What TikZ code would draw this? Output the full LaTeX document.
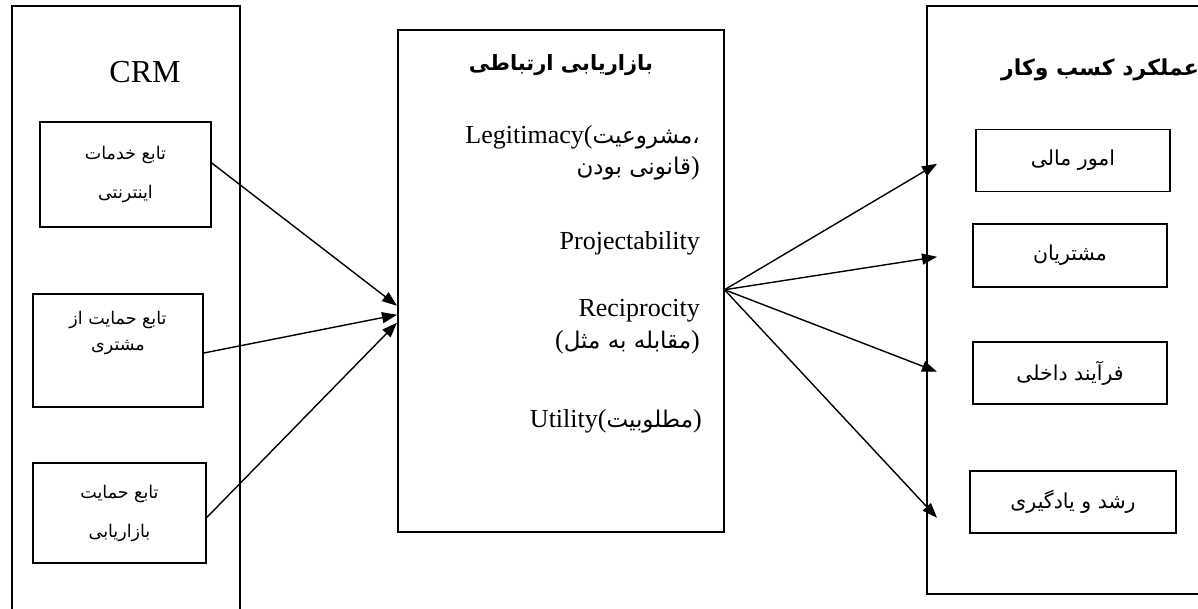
\documentclass[tikz,border=0pt]{standalone}
\usepackage{fontspec}
\setmainfont{Liberation Serif}
\newfontfamily\arabicfont[Script=Arabic]{DejaVu Sans}
\TeXXeTstate=1
\usetikzlibrary{arrows.meta}
\newcommand{\ptxt}[1]{{\arabicfont\beginR #1\endR}}
\newcommand{\midar}{\fontsize{23}{27}\selectfont}
% parentheses set as plain glyphs, outside any bidi processing
\newcommand{\lpar}{\XeTeXglyph\XeTeXcharglyph"0028\relax}
\newcommand{\rpar}{\XeTeXglyph\XeTeXcharglyph"0029\relax}
\tikzset{
  frame/.style={draw=black, line width=1.5pt},
  itembox/.style={draw=black, line width=1.5pt, align=center, inner sep=0pt},
  conn/.style={draw=black, line width=1.4pt, -{Triangle[length=15pt,width=11pt]}},
  plain/.style={inner sep=0pt, align=center},
  lefttext/.style={font=\arabicfont\fontsize{17.5}{39}\selectfont},
  righttext/.style={font=\arabicfont\fontsize{20.5}{24}\selectfont},
  midtext/.style={plain, anchor=east, align=right, font=\fontsize{26}{31}\selectfont},
}
\begin{document}
\begin{tikzpicture}[x=1pt,y=-1pt]
\useasboundingbox (0,0) rectangle (1198,608);
\clip (0,0) rectangle (1198,608);
\fill[white] (0,0) rectangle (1198,608);

% outer panels
\node[frame, minimum width=228pt, minimum height=640pt, anchor=north west] (lbox) at (11,5) {};
\node[frame, minimum width=326pt, minimum height=502pt, anchor=north west] (mid) at (397,29) {};
\node[frame, minimum width=300pt, minimum height=588pt, anchor=north west] (rbox) at (926,5) {};

% left panel
\node[plain, font=\fontsize{32}{34}\selectfont] (crm) at (145,72) {CRM};
\node[itembox, lefttext, minimum width=171pt, minimum height=105pt] (b1) at (125.5,174.5) {\ptxt{تابع خدمات}\\\ptxt{اینترنتی}};
\node[itembox, minimum width=170pt, minimum height=113pt, font=\arabicfont\fontsize{17.5}{26}\selectfont] (b2) at (118,350.5) {\ptxt{تابع حمایت از}\\\ptxt{مشتری}\\[14pt]\mbox{}};
\node[itembox, lefttext, minimum width=173pt, minimum height=100pt] (b3) at (119.5,513) {\ptxt{تابع حمایت}\\\ptxt{بازاریابی}};

% middle panel
\node[plain, font=\arabicfont\bfseries\fontsize{21}{25}\selectfont] (mtitle) at (561,65) {\ptxt{بازاریابی ارتباطی}};
\node[midtext] (leg) at (700,153) {Legitimacy\lpar\ptxt{\midar مشروعیت}{\arabicfont\midar ،}\\\ptxt{\midar قانونی بودن}\rpar};
\node[midtext] (proj) at (700,243) {Projectability};
\node[midtext, font=\fontsize{26}{32}\selectfont] (reci) at (700,327) {Reciprocity\\\lpar\ptxt{\midar مقابله به مثل}\rpar};
\node[midtext] (util) at (702,421) {Utility\lpar\ptxt{\midar مطلوبیت}\rpar};

% right panel
\node[plain, anchor=east, font=\arabicfont\bfseries\fontsize{22}{26}\selectfont] (rtitle) at (1199,70) {\ptxt{عملکرد کسب وکار}};
\node[itembox, righttext, minimum width=194pt, minimum height=62pt] (r1) at (1073,160.5) {\ptxt{امور مالی}};
\node[itembox, righttext, minimum width=194pt, minimum height=63pt] (r2) at (1070,255.5) {\ptxt{مشتریان}};
\node[itembox, righttext, minimum width=194pt, minimum height=62pt] (r3) at (1070,373) {\ptxt{فرآیند داخلی}};
\node[itembox, righttext, minimum width=206pt, minimum height=62pt] (r4) at (1073,502) {\ptxt{رشد و یادگیری}};

% connectors left -> middle
\draw[conn] ([yshift=11.5pt]b1.east) -- ([yshift=-25pt]mid.west);
\draw[conn] ([yshift=-2.5pt]b2.east) -- ([yshift=-34pt]mid.west);
\draw[conn] ([yshift=-4.5pt]b3.east) -- ([yshift=-42pt]mid.west);

% connectors middle -> right
\coordinate (src) at ([yshift=-9pt]mid.east);
\draw[conn] (src) -- ([xshift=11pt,yshift=136pt]rbox.west);
\draw[conn] (src) -- ([xshift=11pt,yshift=43pt]rbox.west);
\draw[conn] (src) -- ([xshift=11pt,yshift=-72pt]rbox.west);
\draw[conn] (src) -- ([xshift=11pt,yshift=-218pt]rbox.west);
\end{tikzpicture}
\end{document}
